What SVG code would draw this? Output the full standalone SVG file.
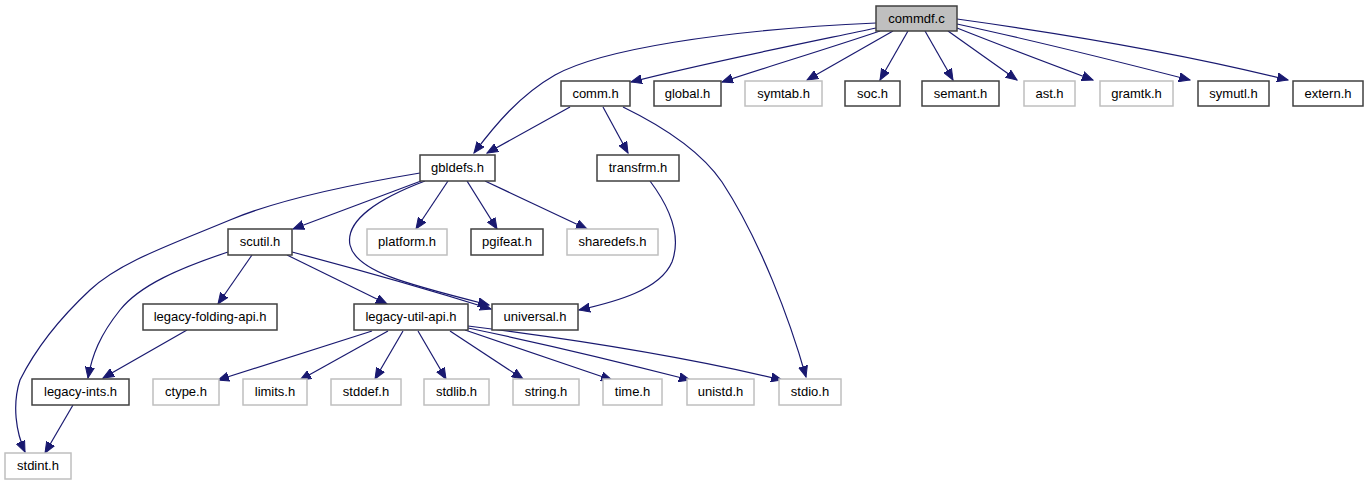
<svg xmlns="http://www.w3.org/2000/svg" width="1369" height="485" viewBox="0 0 1369 485">
<style>
.n rect{fill:#fff;stroke:#404040;stroke-width:1.5}
.g rect{fill:#fff;stroke:#bfbfbf;stroke-width:1.5}
.n text,.g text{font-family:"Liberation Sans",Arial,sans-serif;font-size:13px;text-anchor:middle;fill:#000}
#edges path{fill:none;stroke:#191970;stroke-width:1.2;marker-end:url(#ah)}
</style>
<defs>
<marker id="ah" markerUnits="userSpaceOnUse" markerWidth="12" markerHeight="10" viewBox="0 0 12 10" refX="11" refY="5" orient="auto">
<path d="M0,0.5 L11,5 L0,9.5 z" fill="#191970" stroke="#191970" stroke-width="1"/>
</marker>
</defs>
<rect width="1369" height="485" fill="#fff"/>
<g id="edges">
<path d="M876,23 C 720,30 600,50 555,75 C 520,95 495,125 474,153"/>
<path d="M876,28 C 800,44 700,64 631,82"/>
<path d="M880,31 C 830,48 770,66 722,82"/>
<path d="M893,31 L807,80"/>
<path d="M908,31 L880,80"/>
<path d="M925,31 L953,80"/>
<path d="M948,31 L1017,80"/>
<path d="M957,28 C 1000,45 1050,64 1093,80"/>
<path d="M957,24 C 1040,42 1120,62 1190,80"/>
<path d="M957,19 C 1080,36 1200,58 1288,80"/>
<path d="M570,107 L487,153"/>
<path d="M603,107 L628,153"/>
<path d="M623,107 C 660,125 700,150 722,182 C 760,240 790,320 806,377"/>
<path d="M650,181 C 668,205 682,235 672,262 C 660,290 615,302 579,310"/>
<path d="M420,173 C 330,188 270,203 230,220 C 170,245 120,262 90,290 C 60,318 35,350 20,380 C 12,405 16,432 25,452"/>
<path d="M421,181 L293,229"/>
<path d="M425,181 C 380,198 345,220 350,245 C 356,272 410,285 489,305"/>
<path d="M448,181 L416,229"/>
<path d="M467,181 L497,229"/>
<path d="M485,181 L587,229"/>
<path d="M252,255 L218,304"/>
<path d="M287,255 L387,304"/>
<path d="M292,252 C 360,270 430,290 491,309"/>
<path d="M228,252 C 180,268 140,285 120,310 C 100,335 92,355 88,378"/>
<path d="M187,330 L103,378"/>
<path d="M73,405 L45,453"/>
<path d="M372,331 L218,380"/>
<path d="M388,331 L300,380"/>
<path d="M403,331 L375,379"/>
<path d="M418,331 L446,379"/>
<path d="M450,331 L523,379"/>
<path d="M465,330 L612,380"/>
<path d="M468,328 C 550,345 620,362 690,380"/>
<path d="M468,326 C 580,340 690,358 782,380"/>
</g>
<g id="commdf_c" class="n"><rect x="876" y="6" width="81" height="25" style="fill:#bfbfbf"/><text x="916.5" y="23">commdf.c</text></g>
<g id="comm_h" class="n"><rect x="561" y="81" width="69" height="25"/><text x="595.5" y="98">comm.h</text></g>
<g id="global_h" class="n"><rect x="654" y="81" width="67" height="25"/><text x="687.5" y="98">global.h</text></g>
<g id="symtab_h" class="g"><rect x="745" y="81" width="77" height="25"/><text x="783.5" y="98">symtab.h</text></g>
<g id="soc_h" class="n"><rect x="845" y="81" width="55" height="25"/><text x="872.5" y="98">soc.h</text></g>
<g id="semant_h" class="n"><rect x="922" y="81" width="77" height="25"/><text x="960.5" y="98">semant.h</text></g>
<g id="ast_h" class="g"><rect x="1024" y="81" width="51" height="25"/><text x="1049.5" y="98">ast.h</text></g>
<g id="gramtk_h" class="g"><rect x="1100" y="81" width="73" height="25"/><text x="1136.5" y="98">gramtk.h</text></g>
<g id="symutl_h" class="n"><rect x="1198" y="81" width="71" height="25"/><text x="1233.5" y="98">symutl.h</text></g>
<g id="extern_h" class="n"><rect x="1293" y="81" width="70" height="25"/><text x="1328" y="98">extern.h</text></g>
<g id="gbldefs_h" class="n"><rect x="420" y="155" width="75" height="26"/><text x="457.5" y="172">gbldefs.h</text></g>
<g id="transfrm_h" class="n"><rect x="597" y="155" width="82" height="26"/><text x="638" y="172">transfrm.h</text></g>
<g id="scutil_h" class="n"><rect x="228" y="229" width="64" height="26"/><text x="260" y="246">scutil.h</text></g>
<g id="platform_h" class="g"><rect x="367" y="229" width="80" height="26"/><text x="407" y="246">platform.h</text></g>
<g id="pgifeat_h" class="n"><rect x="471" y="229" width="72" height="26"/><text x="507" y="246">pgifeat.h</text></g>
<g id="sharedefs_h" class="g"><rect x="567" y="229" width="91" height="26"/><text x="612.5" y="246">sharedefs.h</text></g>
<g id="legacy_folding_api_h" class="n"><rect x="143" y="304" width="134" height="26"/><text x="210" y="321">legacy-folding-api.h</text></g>
<g id="legacy_util_api_h" class="n"><rect x="354" y="304" width="114" height="26"/><text x="411" y="321">legacy-util-api.h</text></g>
<g id="universal_h" class="n"><rect x="492" y="304" width="86" height="26"/><text x="535" y="321">universal.h</text></g>
<g id="legacy_ints_h" class="n"><rect x="32" y="379" width="97" height="26"/><text x="80.5" y="396">legacy-ints.h</text></g>
<g id="ctype_h" class="g"><rect x="153" y="379" width="66" height="26"/><text x="186" y="396">ctype.h</text></g>
<g id="limits_h" class="g"><rect x="243" y="379" width="64" height="26"/><text x="275" y="396">limits.h</text></g>
<g id="stddef_h" class="g"><rect x="331" y="379" width="70" height="26"/><text x="366" y="396">stddef.h</text></g>
<g id="stdlib_h" class="g"><rect x="424" y="379" width="65" height="26"/><text x="456.5" y="396">stdlib.h</text></g>
<g id="string_h" class="g"><rect x="513" y="379" width="66" height="26"/><text x="546" y="396">string.h</text></g>
<g id="time_h" class="g"><rect x="603" y="379" width="59" height="26"/><text x="632.5" y="396">time.h</text></g>
<g id="unistd_h" class="g"><rect x="687" y="379" width="67" height="26"/><text x="720.5" y="396">unistd.h</text></g>
<g id="stdio_h" class="g"><rect x="779" y="379" width="62" height="26"/><text x="810" y="396">stdio.h</text></g>
<g id="stdint_h" class="g"><rect x="5" y="453" width="66" height="26"/><text x="38" y="470">stdint.h</text></g>
</svg>
